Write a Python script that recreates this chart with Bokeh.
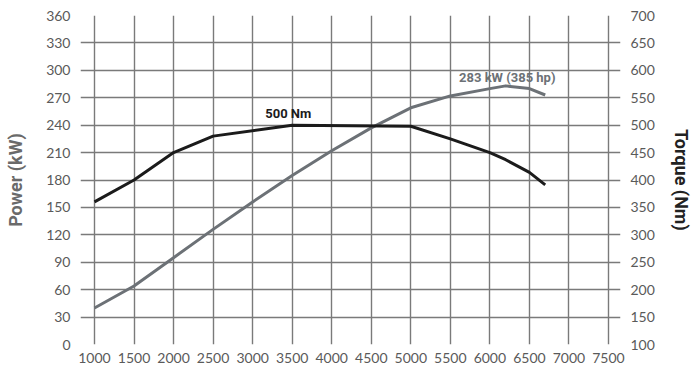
from bokeh.plotting import figure
from bokeh.models import Range1d, LinearAxis, FixedTicker
from bokeh.core.properties import value
from bokeh.embed import file_html
from bokeh.resources import INLINE

# ---- data ----
rpm_power = [1000, 1500, 2000, 2500, 3000, 3500, 4000, 4500, 5000, 5500, 6000, 6200, 6500, 6700]
power_kw = [40, 64, 95, 126, 156, 185, 212, 237, 259, 272, 280, 283, 280, 273]

rpm_torque = [1000, 1500, 2000, 2500, 3500, 5000, 5500, 6000, 6200, 6500, 6700]
torque_nm = [360, 400, 450, 480, 500, 498, 475, 450, 437, 414, 391]

x_ticks = list(range(1000, 7501, 500))
power_ticks = list(range(0, 361, 30))
torque_ticks = list(range(100, 701, 50))

torque_label = "500 Nm"
torque_label_pos = (3450, 500)
power_label = "283 kW (385 hp)"
power_label_pos = (6220, 292)

GRID = "#7a7a7a"
TICK_TXT = "#5a5a5a"
GRAY_LINE = "#6c7176"
BLACK_LINE = "#1b1b1b"
FONT = "Lato"
BOLD_FONT = "Roboto"

X0, X1 = 823, 7652

p = figure(width=695, height=373, output_backend="svg", toolbar_location=None,
           x_range=Range1d(X0, X1), y_range=Range1d(0, 360),
           min_border_left=80, min_border_right=75, min_border_top=15, min_border_bottom=29)
p.outline_line_color = None
p.background_fill_color = "white"
p.border_fill_color = "white"
p.extra_y_ranges = {"torque": Range1d(100, 700)}

raxis = LinearAxis(y_range_name="torque", ticker=FixedTicker(ticks=torque_ticks))
p.add_layout(raxis, "right")

p.xaxis.ticker = FixedTicker(ticks=x_ticks)
p.yaxis[0].ticker = FixedTicker(ticks=power_ticks)
for ax in [p.xaxis[0], p.yaxis[0], raxis]:
    ax.axis_line_color = None
    ax.major_tick_line_color = None
    ax.minor_tick_line_color = None
    ax.major_tick_out = 0
    ax.major_tick_in = 0
    ax.minor_tick_out = 0
    ax.minor_tick_in = 0
    ax.major_label_text_font = FONT
    ax.major_label_text_font_size = "14px"
    ax.major_label_text_color = TICK_TXT
p.xaxis.major_label_standoff = 8
p.yaxis[0].major_label_standoff = 10
raxis.major_label_standoff = 10

ly = p.yaxis[0]
ly.axis_label = "Power (kW)"
ly.axis_label_text_font = BOLD_FONT
ly.axis_label_text_font_style = "bold"
ly.axis_label_text_font_size = "18px"
ly.axis_label_text_color = "#6a6a6a"
ly.axis_label_standoff = 17

raxis.axis_label = "Torque (Nm)"
raxis.axis_label_text_font = BOLD_FONT
raxis.axis_label_text_font_style = "bold"
raxis.axis_label_text_font_size = "18px"
raxis.axis_label_text_color = "#222222"
raxis.axis_label_standoff = 13

# grid
p.xgrid.ticker = FixedTicker(ticks=x_ticks)
p.ygrid.ticker = FixedTicker(ticks=power_ticks)
p.grid.grid_line_color = GRID
p.grid.grid_line_width = 1.4
p.grid.grid_line_alpha = 1

# lines
p.line(rpm_power, power_kw, line_color=GRAY_LINE, line_width=3, line_join="round")
p.line(rpm_torque, torque_nm, y_range_name="torque", line_color=BLACK_LINE, line_width=3, line_join="round")

# annotations
p.text(x=[torque_label_pos[0]], y=[torque_label_pos[1]], text=[torque_label], y_range_name="torque",
       text_font=value(BOLD_FONT), text_font_style="bold", text_font_size="13px",
       text_color=BLACK_LINE, text_align="center", text_baseline="bottom", y_offset=-4)
p.text(x=[power_label_pos[0]], y=[power_label_pos[1]], text=[power_label],
       text_font=value(BOLD_FONT), text_font_style="bold", text_font_size="13px",
       text_color=GRAY_LINE, text_align="center", text_baseline="middle")

open("out.html", "w").write(file_html(p, INLINE))
